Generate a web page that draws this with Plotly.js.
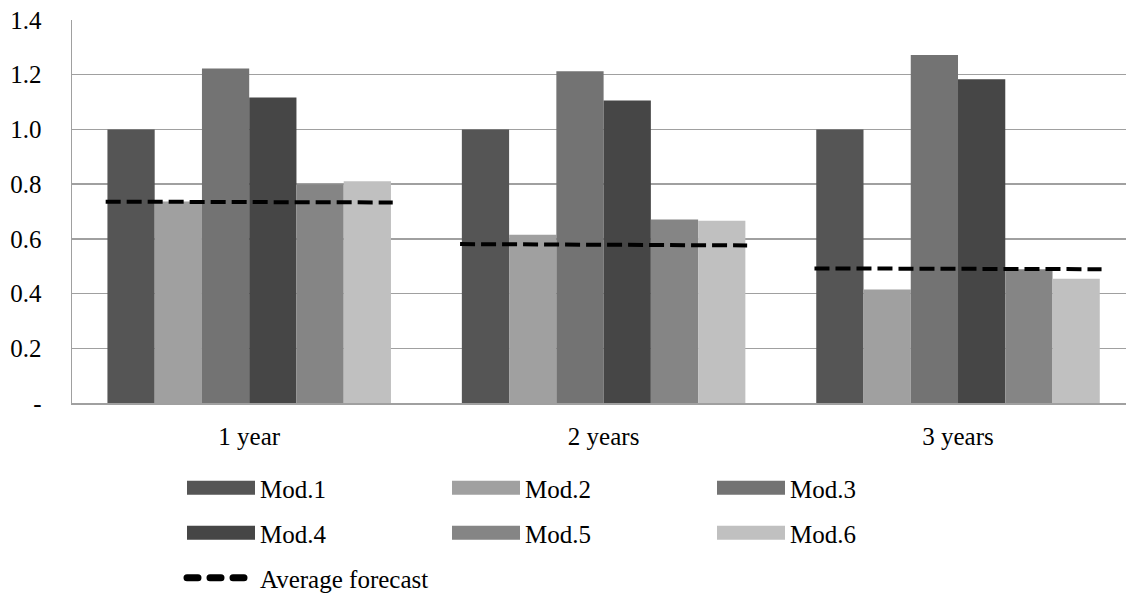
<!DOCTYPE html>
<html><head><meta charset="utf-8">
<script src="https://cdn.plot.ly/plotly-3.0.1.min.js"></script>
<style>
html,body{margin:0;padding:0;background:#fff}
#chart{width:1126px;height:593px}
#chart g.legend .legendlines path, #chart g.legend2 .legendlines path{stroke-width:14px !important;}
#chart g.legend3 .legendlines path{stroke-width:7px !important;stroke-linecap:round !important;stroke-dasharray:11px,12px !important;}
</style>
</head><body><div id="chart"></div>
<script>
const categories = ['1 year', '2 years', '3 years'];
const seriesNames = ['Mod.1', 'Mod.2', 'Mod.3', 'Mod.4', 'Mod.5', 'Mod.6'];
const mod1 = [1.000, 1.000, 1.000];
const mod2 = [0.737, 0.615, 0.415];
const mod3 = [1.223, 1.213, 1.272];
const mod4 = [1.117, 1.106, 1.183];
const mod5 = [0.800, 0.671, 0.489];
const mod6 = [0.811, 0.666, 0.454];
const avgName = 'Average forecast';
const avgStart = [0.736, 0.581, 0.492];
const avgEnd = [0.733, 0.576, 0.489];
const yTickVals = [0, 0.2, 0.4, 0.6, 0.8, 1.0, 1.2, 1.4];
const yTickText = ['-', '0.2', '0.4', '0.6', '0.8', '1.0', '1.2', '1.4'];

const seriesValues = [mod1, mod2, mod3, mod4, mod5, mod6];
const colors = ['#555555', '#a0a0a0', '#737373', '#464646', '#858585', '#c0c0c0'];
const FONT = 'Liberation Serif, Times New Roman, serif';
const xIdx = categories.map((_, i) => i);
const half = 0.405;

const traces = [];
seriesNames.forEach((name, k) => {
  traces.push({
    type: 'bar', x: xIdx, y: seriesValues[k], name: name,
    marker: {color: colors[k], line: {width: 0}},
    showlegend: false, legendgroup: name, hoverinfo: 'y+name'
  });
});
// legend swatches
seriesNames.forEach((name, k) => {
  traces.push({
    type: 'scatter', mode: 'lines', x: [null], y: [null], name: name,
    line: {color: colors[k], width: 14},
    legendgroup: name, legend: k < 3 ? 'legend' : 'legend2', hoverinfo: 'skip'
  });
});
const ax = [], ay = [];
xIdx.forEach(i => { ax.push(i - half, i + half, null); ay.push(avgStart[i], avgEnd[i], null); });
traces.push({
  type: 'scatter', mode: 'lines', x: ax, y: ay, name: avgName,
  line: {color: '#000000', width: 4, dash: '15px,6px'},
  legend: 'legend3', connectgaps: false
});

const legendBase = (yPix) => ({
  orientation: 'h', xref: 'container', yref: 'container',
  x: 182 / 1126, xanchor: 'left', y: 1 - yPix / 593, yanchor: 'middle',
  entrywidth: 182, entrywidthmode: 'pixels', itemwidth: 68,
  font: {family: FONT, size: 25, color: '#000'}, bgcolor: 'rgba(0,0,0,0)',
  traceorder: 'normal', tracegroupgap: 0
});

const layout = {
  width: 1126, height: 593,
  margin: {l: 72, r: 0, t: 20, b: 190, pad: 0},
  paper_bgcolor: '#ffffff', plot_bgcolor: '#ffffff',
  font: {family: FONT, size: 25, color: '#000'},
  barmode: 'group', bargap: 0.2, bargroupgap: 0,
  xaxis: {
    range: [-0.5, 2.474], tickvals: xIdx, ticktext: categories,
    showgrid: false, zeroline: false, showline: true, linecolor: '#a0a0a0', linewidth: 1.5,
    ticks: '', ticklabelstandoff: 10, tickfont: {family: FONT, size: 25, color: '#000'}, fixedrange: true
  },
  yaxis: {
    range: [0, 1.4], tickvals: yTickVals, ticktext: yTickText,
    showgrid: true, gridcolor: '#a0a0a0', gridwidth: 1.3, zeroline: false,
    showline: true, linecolor: '#a0a0a0', linewidth: 1.5,
    ticks: '', ticklabelstandoff: 24, tickfont: {family: FONT, size: 25, color: '#000'}, fixedrange: true
  },
  legend: legendBase(488),
  legend2: legendBase(533),
  legend3: legendBase(578),
  showlegend: true
};

Plotly.newPlot('chart', traces, layout, {displayModeBar: false, staticPlot: true});
</script></body></html>
